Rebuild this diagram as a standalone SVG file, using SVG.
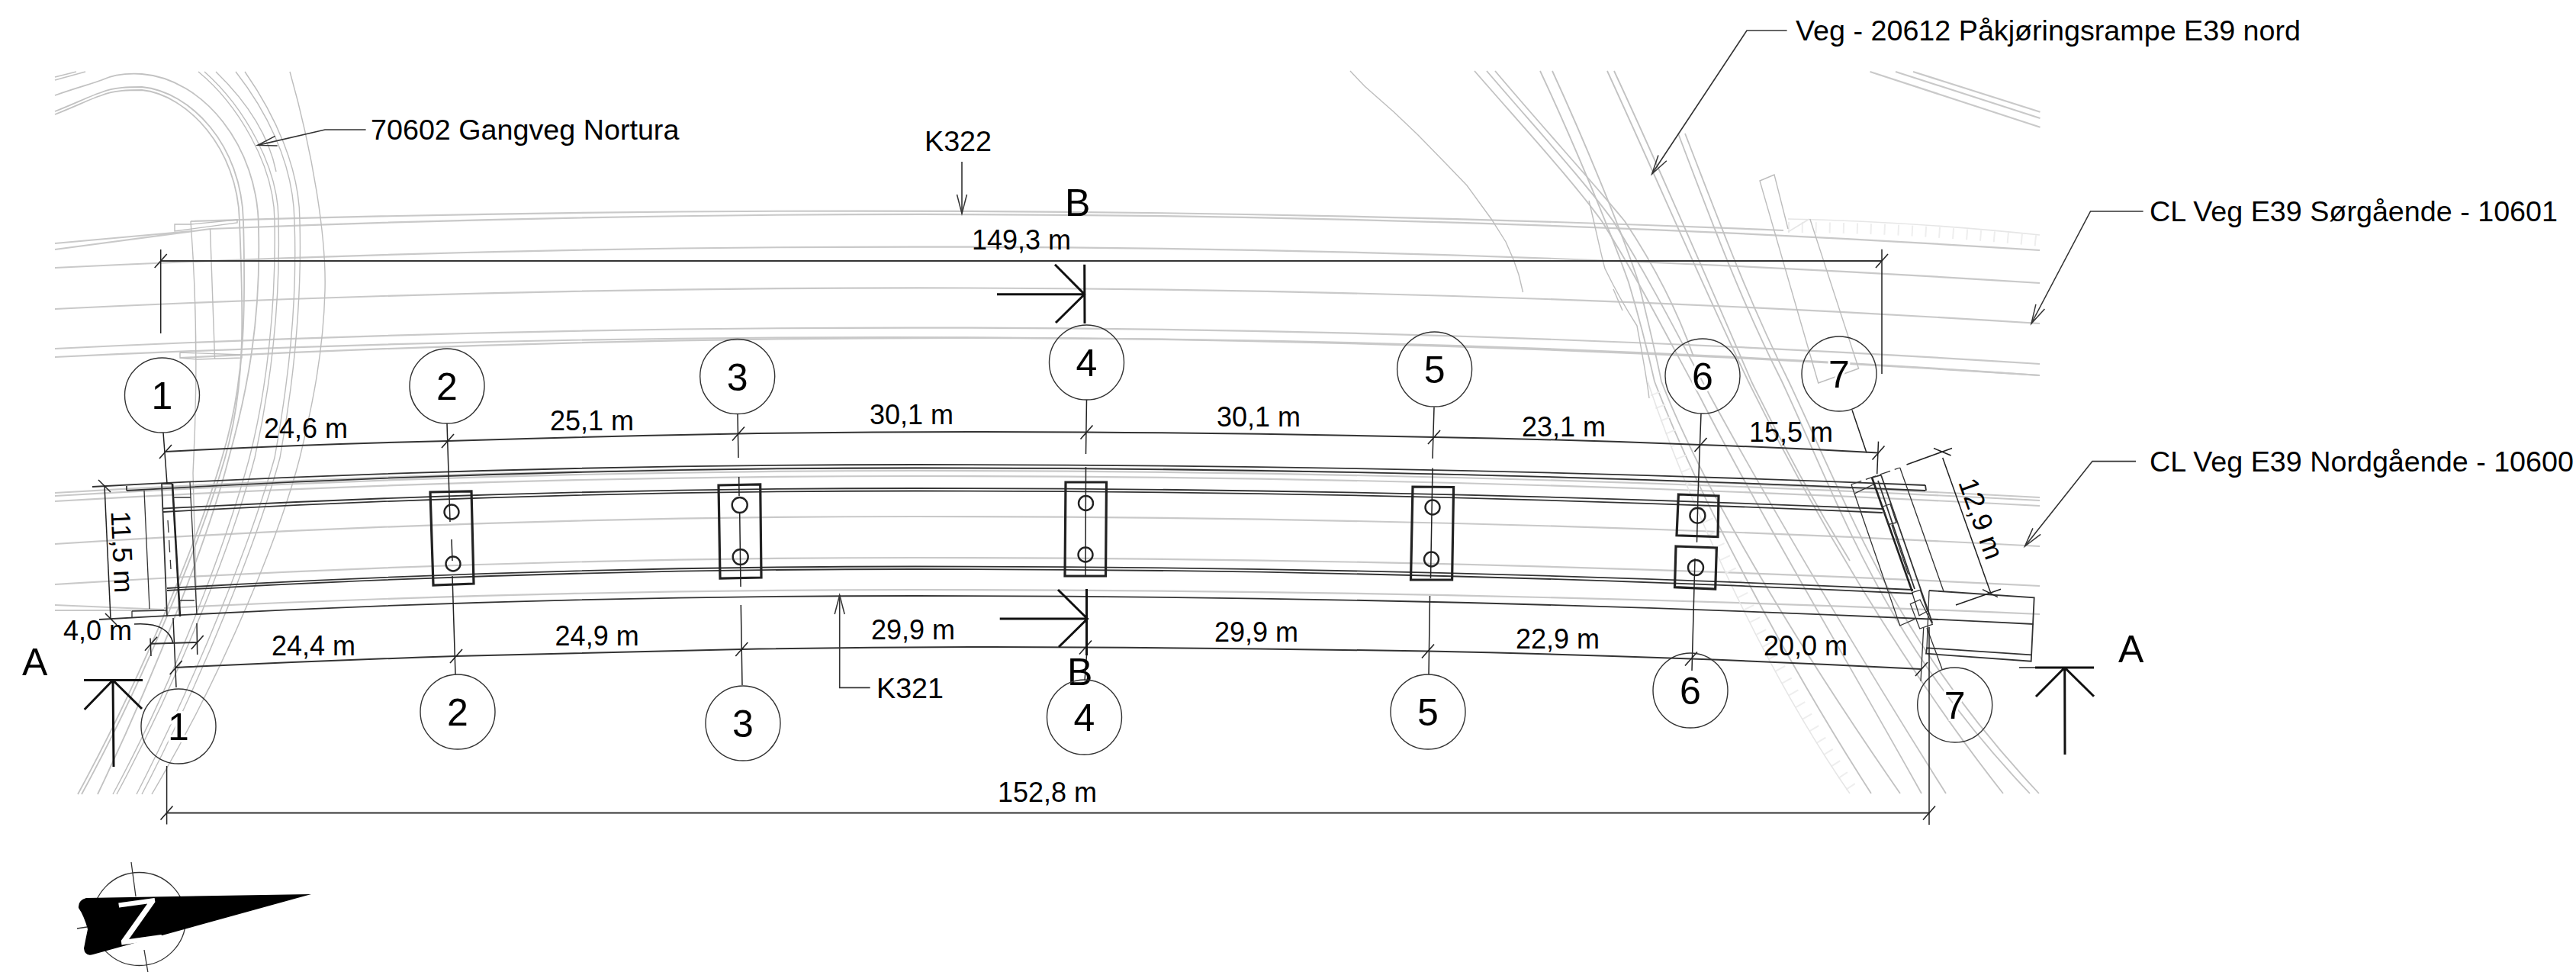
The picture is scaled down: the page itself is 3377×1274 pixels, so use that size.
<svg xmlns="http://www.w3.org/2000/svg" width="3377" height="1274" viewBox="0 0 3377 1274">
<style>
text{font-family:"Liberation Sans",Arial,sans-serif;fill:#000}
.dim{font-size:36px}
.lab{font-size:37.7px}
.big{font-size:50px}
.num{font-size:50px;text-anchor:middle;paint-order:stroke;stroke:#fff;stroke-width:6px}
path,line,circle,polyline,polygon{fill:none}
.gr{stroke:#c9c9c9;stroke-width:2.2}
.gt{stroke:#bdbdbd;stroke-width:1.4}
.gc{stroke:#c2c2c2;stroke-width:1.8}
.lt{stroke:#e6e6e6;stroke-width:1.6}
.ltb{stroke:#eeeeee;stroke-width:14;stroke-dasharray:2 16}
.k{stroke:#333;stroke-width:1.8}
.kt{stroke:#333;stroke-width:1.3}
.kb{stroke:#222;stroke-width:2.6}
.ax{stroke:#222;stroke-width:1.5}
.bear{stroke:#222;stroke-width:3.2}
.hole{stroke:#222;stroke-width:2.4}
.ring{stroke:#333;stroke-width:1.4}
.sec{stroke:#111;stroke-width:3}
.dl{stroke:#333;stroke-width:2;marker-start:url(#t);marker-mid:url(#t);marker-end:url(#t)}
.ld{stroke:#333;stroke-width:1.6;marker-end:url(#a)}
.nz{fill:#000}
.zt{font-size:80px;text-anchor:middle;fill:#fff}
</style>
<defs>
<marker id="t" markerUnits="userSpaceOnUse" markerWidth="20" markerHeight="22" refX="0" refY="0" overflow="visible" orient="0"><path d="M-8,9L8,-9" stroke="#222" stroke-width="1.6" fill="none"/></marker>
<marker id="a" markerUnits="userSpaceOnUse" markerWidth="26" markerHeight="16" refX="0" refY="0" overflow="visible" orient="auto"><path d="M-25,-6.5L0,0L-25,6.5" stroke="#333" stroke-width="1.5" fill="none"/></marker>
</defs>

<g id="road-lines">
<path class="gr" d="M250,290Q1294,258 2338,302"/>
<path class="gr" d="M276,300Q1475,251 2674,328"/>
<path class="gr" d="M72,319L250,303M72,327L276,300"/>
<path class="gt" d="M229,294H250L311,288V292L229,303Z"/>
<path class="gr" d="M72,351Q1373,287.5 2674,371"/>
<path class="gr" d="M72,405Q1373,341.5 2674,424"/>
<path class="gr" d="M72,457Q1373,393.5 2674,477"/>
<path class="gr" d="M72,468Q1373,406 2674,492"/>
<path class="gr" d="M236,469Q1460,407 2674,492"/>
<path class="gt" d="M236,462V469L258,471L317,469V465L236,462"/>
<path class="ltb" d="M2344,298Q2500,298 2674,316"/>
<path class="lt" d="M2344,287Q2500,290 2674,308M2344,304L2372,287"/>
<path class="gr" d="M2451.5,94L2674.5,166.7M2485,94L2674.5,155M2508,94L2674.5,146.7"/>
<path class="gr" d="M72,646Q636,613 1200,613Q1937,613 2674,652"/>
<path class="gr" d="M72,650Q636,617 1200,617Q1937,617 2674,656"/>
<path class="gr" d="M72,657Q636,624 1200,624Q1937,624 2674,663"/>
<path class="gr" d="M72,713Q636,677 1200,677Q1937,677 2674,716"/>
<path class="gr" d="M72,766Q636,731 1200,731Q1937,731 2674,768"/>
<path class="gr" d="M72,793L215,799M72,800L215,800M215,797Q707,773 1200,773Q1937,773 2674,805"/>
</g>

<g id="gangveg-curves">
<path class="gc" d="M72,105L112,94M72,101L100,94"/>
<path class="gc" d="M72,125C100,115 120,110 133,105C150,97 170,96 186,97C265,103 339,190 339,300C342,420 325,510 300,600C275,700 205,880 128,1041"/>
<path class="gc" d="M72,146C100,135 120,125 133,121C150,114 170,114 186,114C250,120 317,190 319,290C322,400 322,500 291,600C262,700 190,880 102,1041"/>
<path class="gc" d="M72,150C100,139 120,129 133,125C150,118 170,118 186,118C245,124 312,194 314,290C318,400 324,500 295,600C266,700 195,880 107,1041"/>
<path class="gt" d="M260,94C310,135 360,215 360,290C362,400 350,510 327,600C300,700 235,880 148,1041"/>
<path class="gt" d="M268,94C320,140 366,220 365,290C368,400 354,510 334,600C308,700 240,880 153,1041"/>
<path class="gt" d="M283,94C320,130 352,175 362,225"/>
<path class="gt" d="M309,94C345,140 385,210 386,290C390,400 378,500 360,600C332,700 262,880 179,1041"/>
<path class="gt" d="M321,94C360,150 393,220 393,290C396,400 385,500 367,600C340,700 270,880 186,1041"/>
<path class="gt" d="M380,94C410,200 428,310 426,381C424,460 410,530 393,600C370,690 300,870 199,1041"/>
<path class="gt" d="M250,290Q262,450 253,620L258,806M275.5,300L281.6,471"/>
</g>

<g id="ramp-curves">
<polyline class="gt" points="1770,93 1789,113 1827.5,147 1859,177 1898,217 1923,243 1955,287 1974,317 1984,340 1991,360 1996.5,383"/>
<path class="gc" d="M1933,93C2000,170 2060,235 2100,290C2150,370 2190,450 2229,521C2310,680 2430,880 2519,1040"/>
<path class="gc" d="M1949,93C2015,170 2075,235 2115,290C2165,370 2205,450 2243,521C2330,680 2450,880 2551,1040"/>
<path class="gc" d="M1960,93C2025,170 2085,235 2130,290C2170,350 2200,410 2220,467"/>
<path class="gc" d="M2019,93C2060,180 2110,300 2135,370C2150,420 2160,460 2169,500C2230,660 2350,880 2453,1040"/>
<path class="gc" d="M2035,93C2075,180 2125,300 2148,370C2160,420 2170,460 2178,500C2240,660 2380,880 2491,1040"/>
<path class="gc" d="M2107,93C2170,230 2230,370 2292,500C2380,680 2500,880 2626,1040"/>
<path class="gc" d="M2116,93C2180,230 2240,370 2296,500C2340,590 2385,670 2425,735"/>
<path class="gc" d="M2200,175C2240,280 2280,390 2336,500C2420,680 2470,840 2661,1040"/>
<path class="gc" d="M2209,175C2250,280 2290,390 2345,500C2430,680 2485,840 2673,1040"/>
<path class="gt" d="M2344,300L2326,229L2307,237L2383.7,502L2436.6,483L2372.8,287"/>
<path class="gt" d="M2083,263C2092,300 2098,330 2104,352C2120,385 2135,410 2146,427C2152,460 2158,490 2162,522M2115,379L2127,407"/>
<path class="ltb" d="M2170,515C2210,620 2310,860 2432,1040"/>
<path class="lt" d="M2160,500C2200,620 2300,860 2425,1040"/>
</g>

<g id="deck">
<path class="k" d="M121,638Q660,609 1200,609Q1862,609 2524,636"/>
<path class="k" d="M166,643Q683,613.5 1200,613.5Q1862,613.5 2524,643"/>
<path class="k" d="M166,637V643M2524,636L2525,643"/>
<path class="k" d="M214,666.5Q707,640 1200,640Q1833,640 2468,667"/>
<path class="k" d="M214,671Q707,643.5 1200,643.5Q1833,643.5 2468,672"/>
<path class="k" d="M219,771Q709,742.5 1200,742.5Q1853,742.5 2508,773"/>
<path class="k" d="M219,774Q709,746 1200,746Q1853,746 2508,778"/>
<path class="k" d="M130,812Q665,781 1200,781Q1933,781 2666,818"/>
</g>

<g id="abutment-west">
<path class="k" d="M212,634L219,808M226,634H212"/>
<path class="kb" d="M226,634L236,808"/>
<path class="kt" d="M249,632L258,806M189,643L196,798M227,652H250M235,787H255M173,801L219,800M173,801V810"/>
<path class="kt" stroke-dasharray="16 10" d="M220,682L224,746"/>
</g>

<g id="abutment-east">
<path class="kt" d="M2427,635L2490.7,820L2510,811.7"/>
<path class="kt" stroke-dasharray="14 6" d="M2427,635L2490.7,613"/>
<path class="kt" d="M2490.7,613L2548,775M2431.7,646.7L2458,634"/>
<path class="kb" d="M2454,626L2506.7,775"/>
<path class="k" d="M2466,622.7L2533.3,816.7M2454,626L2466,622.7M2462,630L2510,772"/>
<path class="kt" d="M2504.3,791.7L2517,786L2533.3,818.3L2516.7,824Z"/>
<path class="kt" d="M2480,688L2501.7,753M2468,664L2478,660.7L2486,685L2476,687.5Z"/>
<path class="kt" d="M2506.7,776.7L2517.3,773.3L2526.7,801L2516,806.7Z"/>
<path class="k" d="M2529,774L2666.7,783.3L2662.7,866.7L2525,856.7L2526,849.3L2663.3,858.3"/>
<path class="kt" d="M2529,774L2526,849"/>
<path class="kt" d="M2521.7,823L2518,892.7M2526,823L2546,877"/>
</g>

<g id="bearings">
<g id="bearing-2"><path class="bear" d="M564,645L618,644L621,765L568,767Z"/><circle class="hole" cx="592" cy="671" r="9.5"/><circle class="hole" cx="594" cy="739" r="9.5"/></g>
<g id="bearing-3"><path class="bear" d="M942,636L996.7,635L998,757L944,758Z"/><circle class="hole" cx="969.7" cy="662" r="10"/><circle class="hole" cx="970.7" cy="730" r="10"/></g>
<g id="bearing-4"><path class="bear" d="M1397,632H1450.5L1449.5,755H1396Z"/><circle class="hole" cx="1423.5" cy="659.5" r="9.5"/><circle class="hole" cx="1423" cy="727" r="9.5"/></g>
<g id="bearing-5"><path class="bear" d="M1852,638L1905.6,638.5L1903.6,760L1849.5,760Z"/><circle class="hole" cx="1878" cy="665" r="9.5"/><circle class="hole" cx="1876.5" cy="733" r="9.5"/></g>
<g id="bearing-6"><path class="bear" d="M2200.4,648L2253,650L2252,703.6L2198,701.8Z"/><circle class="hole" cx="2225.4" cy="675.7" r="10"/><path class="bear" d="M2197,716L2250.4,718L2248.7,772L2195.5,769.6Z"/><circle class="hole" cx="2223" cy="744" r="10"/></g>
</g>

<g id="connectors">
<path class="ax" d="M214,567L219,634M227,810L231,901M218.6,1004V1080.6"/>
<path class="ax" d="M586,555L590,684M592,707L593,735M593,755L597,884"/>
<path class="ax" d="M967,542.5L968,600M968.7,625L969,650M969.7,672.6L971,769M971.3,793L973,898"/>
<path class="ax" d="M1424.5,524L1423.5,595M1423.5,612L1423,756M1424.5,859L1422,892"/>
<path class="ax" d="M1880,534L1878,601M1878,613.5L1875.5,758M1874.5,781L1873,884"/>
<path class="ax" d="M2230,542L2226,648M2226,648L2224.5,710.7M2222,732L2218,879"/>
<path class="ax" d="M2428,537.5L2447,593.5M2462.5,578.6L2460.7,621.4"/>
<path class="ax" d="M2529,822V1081M210.7,327V437M2467,326.7V490"/>
<path class="ax" d="M197,836.5L198,860M258,817L258.7,858M176,818Q220,815 227,843"/>
<path class="ax" d="M137,636.5L145,811"/>
<path class="ax" d="M2546.7,600L2610,778M2499.5,609L2559,587.5M2564,793L2623,772.3"/>
<path class="dl" d="M217,592Q400,582 587,578Q776,572 968,568.5Q1196,565 1424.5,566.5Q1652,568 1880,573Q2055,576 2229.5,583Q2346,587 2462.5,593.5"/>
<path class="dl" d="M230.6,875Q415,866 598,860Q785,855 972.3,851Q1198,847 1423,848.5Q1648,850 1872,853.5Q2045,857 2217,863.5Q2368,869 2519,877"/>
<path class="dl" d="M210.7,342H2467"/>
<path class="dl" d="M218.5,1065.5H2529"/>
<path class="dl" d="M198,843.8L258.7,842"/>
<path class="ax" d="M129,629L145,645M138,804L153,819M2535,587.5L2557.6,597M2599,772.7L2619,782.7"/>
<path class="ld" d="M479.6,170H426L337.8,190.4"/>
<path class="ld" d="M2342.6,40H2290L2165.6,228"/>
<path class="ld" d="M2809.6,277H2740.5L2663,424"/>
<path class="ld" d="M2800,604.6H2743L2654.5,716"/>
<path class="ld" d="M1261,212V280"/>
<path class="ld" d="M1140.7,901.4H1100.7V780"/>
</g>

<g id="sections">
<path class="sec" d="M110,891.5H187M148,891.5L110.7,930M148,891.5L186,929M148,891.5L149,1005"/>
<path class="sec" d="M2668,875H2745M2706.7,875L2669,913M2706.7,875L2745,912.7M2706.7,875L2707,989"/>
<path class="ax" d="M2647,875H2668"/>
<path class="sec" d="M1307,385.7H1421.7M1383,346.7L1421.7,385.7L1384,423M1421.7,346.7L1422,424"/>
<path class="sec" d="M1310.7,811H1425.5M1387,773L1425.5,811L1388,848M1424.5,772V859"/>
<text class="big" x="29" y="885">A</text>
<text class="big" x="2777" y="868">A</text>
<text class="big" x="1396" y="283">B</text>
<text class="big" x="1399" y="897.5">B</text>
</g>

<g id="axes">
<g id="axis-1-top"><circle class="ring" cx="212.5" cy="518" r="49"/><text class="num" x="212.5" y="536">1</text></g>
<g id="axis-2-top"><circle class="ring" cx="586" cy="506" r="49"/><text class="num" x="586" y="524">2</text></g>
<g id="axis-3-top"><circle class="ring" cx="966.7" cy="493.5" r="49"/><text class="num" x="966.7" y="511.5">3</text></g>
<g id="axis-4-top"><circle class="ring" cx="1424.5" cy="475" r="49"/><text class="num" x="1424.5" y="493">4</text></g>
<g id="axis-5-top"><circle class="ring" cx="1880.6" cy="484" r="49"/><text class="num" x="1880.6" y="502">5</text></g>
<g id="axis-6-top"><circle class="ring" cx="2232" cy="493" r="49"/><text class="num" x="2232" y="511">6</text></g>
<g id="axis-7-top"><circle class="ring" cx="2411" cy="490" r="49"/><text class="num" x="2411" y="508">7</text></g>
<g id="axis-1-bot"><circle class="ring" cx="234" cy="952" r="49"/><text class="num" x="234" y="970">1</text></g>
<g id="axis-2-bot"><circle class="ring" cx="600" cy="933" r="49"/><text class="num" x="600" y="951">2</text></g>
<g id="axis-3-bot"><circle class="ring" cx="974" cy="948" r="49"/><text class="num" x="974" y="966">3</text></g>
<g id="axis-4-bot"><circle class="ring" cx="1421.5" cy="940" r="49"/><text class="num" x="1421.5" y="958">4</text></g>
<g id="axis-5-bot"><circle class="ring" cx="1872" cy="933" r="49"/><text class="num" x="1872" y="951">5</text></g>
<g id="axis-6-bot"><circle class="ring" cx="2216" cy="905" r="49"/><text class="num" x="2216" y="923">6</text></g>
<g id="axis-7-bot"><circle class="ring" cx="2562.7" cy="924" r="49"/><text class="num" x="2562.7" y="942">7</text></g>
</g>

<g id="dimension-labels">
<text class="dim" x="346" y="574">24,6 m</text>
<text class="dim" x="721" y="563.6">25,1 m</text>
<text class="dim" x="1140" y="556">30,1 m</text>
<text class="dim" x="1595" y="559">30,1 m</text>
<text class="dim" x="1995" y="572">23,1 m</text>
<text class="dim" x="2293" y="579">15,5 m</text>
<text class="dim" x="356" y="859">24,4 m</text>
<text class="dim" x="727.6" y="846">24,9 m</text>
<text class="dim" x="1142" y="838">29,9 m</text>
<text class="dim" x="1592" y="841">29,9 m</text>
<text class="dim" x="1987" y="850">22,9 m</text>
<text class="dim" x="2312" y="859">20,0 m</text>
<text class="dim" x="83" y="838.6">4,0 m</text>
<text class="dim" x="1274" y="326.7">149,3 m</text>
<text class="dim" x="1308" y="1051">152,8 m</text>
<text class="dim" text-anchor="middle" transform="translate(148,724) rotate(87.4)">11,5 m</text>
<text class="dim" text-anchor="middle" transform="translate(2585.5,684) rotate(70.4)">12,9 m</text>
</g>

<g id="labels">
<text class="lab" x="486" y="183">70602 Gangveg Nortura</text>
<text class="lab" x="1212" y="197.7">K322</text>
<text class="lab" x="1149" y="915">K321</text>
<text class="lab" x="2354" y="53">Veg - 20612 Påkjøringsrampe E39 nord</text>
<text class="lab" x="2818" y="290">CL Veg E39 Sørgående - 10601</text>
<text class="lab" x="2818" y="618">CL Veg E39 Nordgående - 10600</text>
</g>

<g id="north-arrow">
<circle class="kt" cx="182.5" cy="1204.5" r="61"/>
<path class="kt" d="M172,1130L178,1175M189,1245L194,1275M101,1217L114,1215"/>
<path class="nz" d="M113,1177L408,1172L122,1251Q111,1254 110,1243Q112,1232 115,1218Q110,1200 103,1190Q102,1180 113,1177Z"/>
<text class="zt" transform="translate(182,1207) rotate(-8) scale(1.22,1)" y="28">Z</text>
</g>
</svg>
